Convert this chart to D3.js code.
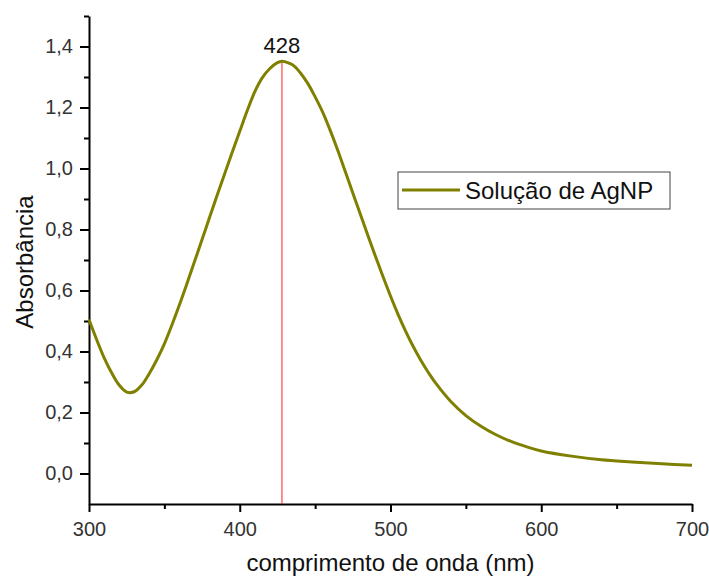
<!DOCTYPE html>
<html>
<head>
<meta charset="utf-8">
<script src="https://d3js.org/d3.v7.min.js"></script>
<style>
  body { margin: 0; background: #fff; }
  svg text { font-family: Arial, "Liberation Sans", sans-serif; }
</style>
</head>
<body>
<script>
// wavelength (nm) and absorbance
var wavelength = [300, 305, 310, 315, 320, 325, 330, 335, 340, 345, 350, 355, 360, 365, 370, 375, 380, 385, 390, 395,
                  400, 405, 410, 415, 420, 425, 428, 430, 435, 440, 445, 450, 455, 460, 465, 470, 475, 480, 485, 490,
                  495, 500, 505, 510, 515, 520, 525, 530, 540, 550, 560, 570, 580, 590, 600, 620, 640, 660, 680, 700];
var absorbance = [0.505, 0.44, 0.38, 0.33, 0.29, 0.267, 0.268, 0.29, 0.328, 0.373, 0.425, 0.487, 0.553, 0.623, 0.695, 0.767, 0.84, 0.912, 0.983, 1.053,
                  1.122, 1.19, 1.252, 1.298, 1.328, 1.347, 1.352, 1.35, 1.34, 1.315, 1.28, 1.235, 1.185, 1.125, 1.06, 0.99, 0.92, 0.85, 0.78, 0.712,
                  0.646, 0.582, 0.522, 0.467, 0.417, 0.372, 0.332, 0.296, 0.236, 0.19, 0.155, 0.127, 0.105, 0.088, 0.074, 0.057, 0.045, 0.038, 0.032, 0.027];

var xMajor = [300, 400, 500, 600, 700];
var xMinor = [350, 450, 550, 650];
var yMajor = [0, 0.2, 0.4, 0.6, 0.8, 1.0, 1.2, 1.4];
var yMinor = [0.1, 0.3, 0.5, 0.7, 0.9, 1.1, 1.3, 1.5];
var peak = 428;
var seriesName = "Solução de AgNP";

var W = 709, H = 579;
var margin = {top: 16, right: 17, bottom: 75, left: 89};

var svg = d3.select("body").append("svg")
    .attr("width", W)
    .attr("height", H);

var x = d3.scaleLinear().domain([300, 700]).range([margin.left, W - margin.right]);
var y = d3.scaleLinear().domain([-0.1, 1.5]).range([H - margin.bottom, margin.top]);

var comma = function (d) { return d3.format(".1f")(d).replace(".", ","); };

// minor ticks first, then major with labels
svg.append("g")
    .attr("transform", "translate(" + margin.left + ",0)")
    .call(d3.axisLeft(y).tickValues(yMinor).tickSize(5).tickFormat(""))
    .call(function (g) { g.select(".domain").remove(); });

svg.append("g")
    .attr("transform", "translate(0," + (H - margin.bottom) + ")")
    .call(d3.axisBottom(x).tickValues(xMinor).tickSize(5).tickFormat(""))
    .call(function (g) { g.select(".domain").remove(); });

var yAxis = svg.append("g")
    .attr("transform", "translate(" + margin.left + ",0)")
    .call(d3.axisLeft(y).tickValues(yMajor).tickSize(9).tickSizeOuter(0).tickPadding(7).tickFormat(comma));

var xAxis = svg.append("g")
    .attr("transform", "translate(0," + (H - margin.bottom) + ")")
    .call(d3.axisBottom(x).tickValues(xMajor).tickSize(8).tickSizeOuter(0).tickPadding(10));

svg.selectAll(".tick line").attr("stroke", "#000").attr("stroke-width", 2);
svg.selectAll(".domain").attr("stroke", "#000").attr("stroke-width", 2);
svg.selectAll(".tick text").attr("fill", "#333").style("font-size", "20px");

// peak marker
svg.append("line")
    .attr("x1", x(peak)).attr("x2", x(peak))
    .attr("y1", y(absorbance[wavelength.indexOf(peak)]))
    .attr("y2", y(-0.1))
    .attr("stroke", "#ff2020")
    .attr("stroke-width", 1);

var line = d3.line()
    .x(function (d, i) { return x(wavelength[i]); })
    .y(function (d) { return y(d); })
    .curve(d3.curveCatmullRom.alpha(0.5));

svg.append("path")
    .datum(absorbance)
    .attr("d", line)
    .attr("fill", "none")
    .attr("stroke", "#808000")
    .attr("stroke-width", 3);

svg.append("text")
    .attr("x", x(peak))
    .attr("y", 53)
    .attr("text-anchor", "middle")
    .style("font-size", "22px")
    .attr("fill", "#111")
    .text(String(peak));

// legend
var leg = svg.append("g").attr("transform", "translate(398,172)");
leg.append("rect")
    .attr("width", 272).attr("height", 37)
    .attr("fill", "#fff").attr("stroke", "#444").attr("stroke-width", 1);
leg.append("line")
    .attr("x1", 4).attr("x2", 62).attr("y1", 18).attr("y2", 18)
    .attr("stroke", "#808000").attr("stroke-width", 3);
leg.append("text")
    .attr("x", 67).attr("y", 27)
    .style("font-size", "24px")
    .attr("fill", "#111")
    .text(seriesName);

// axis titles
svg.append("text")
    .attr("x", (margin.left + W - margin.right) / 2)
    .attr("y", 571)
    .attr("text-anchor", "middle")
    .style("font-size", "24px")
    .attr("fill", "#111")
    .text("comprimento de onda (nm)");

svg.append("text")
    .attr("transform", "translate(33,262) rotate(-90)")
    .attr("text-anchor", "middle")
    .style("font-size", "24px")
    .attr("fill", "#111")
    .text("Absorbância");
</script>
</body>
</html>
